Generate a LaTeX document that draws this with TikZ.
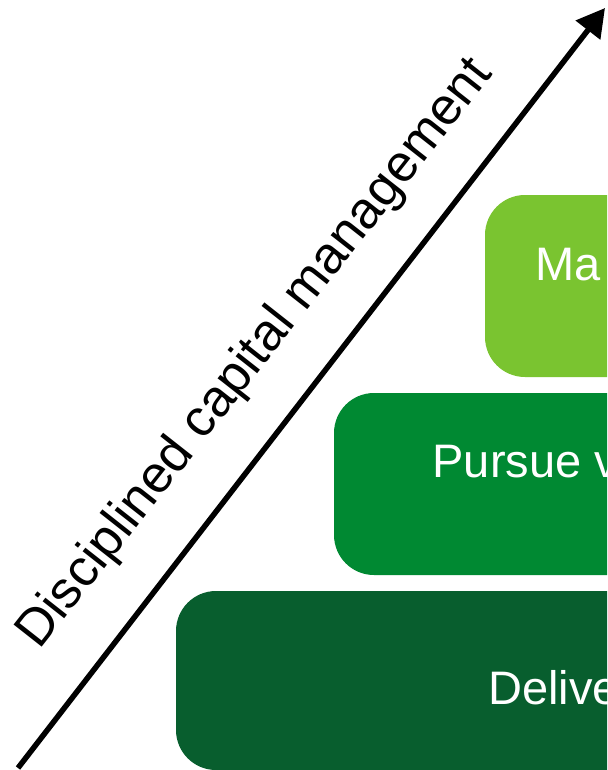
\documentclass[tikz,border=0pt]{standalone}
\usepackage{fontspec}
\setmainfont{Liberation Sans}
\usetikzlibrary{arrows.meta}
\definecolor{lightg}{RGB}{122,196,48}
\definecolor{midg}{RGB}{0,137,50}
\definecolor{darkg}{RGB}{8,94,46}
\tikzset{
  tier/.style={rounded corners=40pt},
  tiertext/.style={anchor=base west, inner sep=0pt, text=white, font=\fontsize{47}{56}\selectfont},
  axis/.style={line width=5.5pt, -{Triangle[length=28pt,width=30pt]}},
  axistext/.style={anchor=base west, inner sep=0pt, font=\fontsize{52}{62}\selectfont}
}
\begin{document}
\begin{tikzpicture}[x=1pt,y=-1pt]
\clip (0,0) rectangle (607,770);
\fill[white] (0,0) rectangle (607,770);
\fill[tier, lightg] (485,195) rectangle (760,377);
\fill[tier, midg] (334,393) rectangle (760,575);
\fill[tier, darkg] (176,591) rectangle (760,770);
\node[tiertext] (t1) at (535.5,280) {Ma};
\node[tiertext] (t2) at (432.4,477) {Pursue v};
\node[tiertext] (t3) at (488,704) {Delive};
\coordinate (a0) at (18,768);
\coordinate (a1) at (605,8);
\draw[axis] (a0) -- (a1);
\node[axistext, rotate=51.8] (lbl) at (39.5,651) {Disciplined capital management};
\end{tikzpicture}
\end{document}
